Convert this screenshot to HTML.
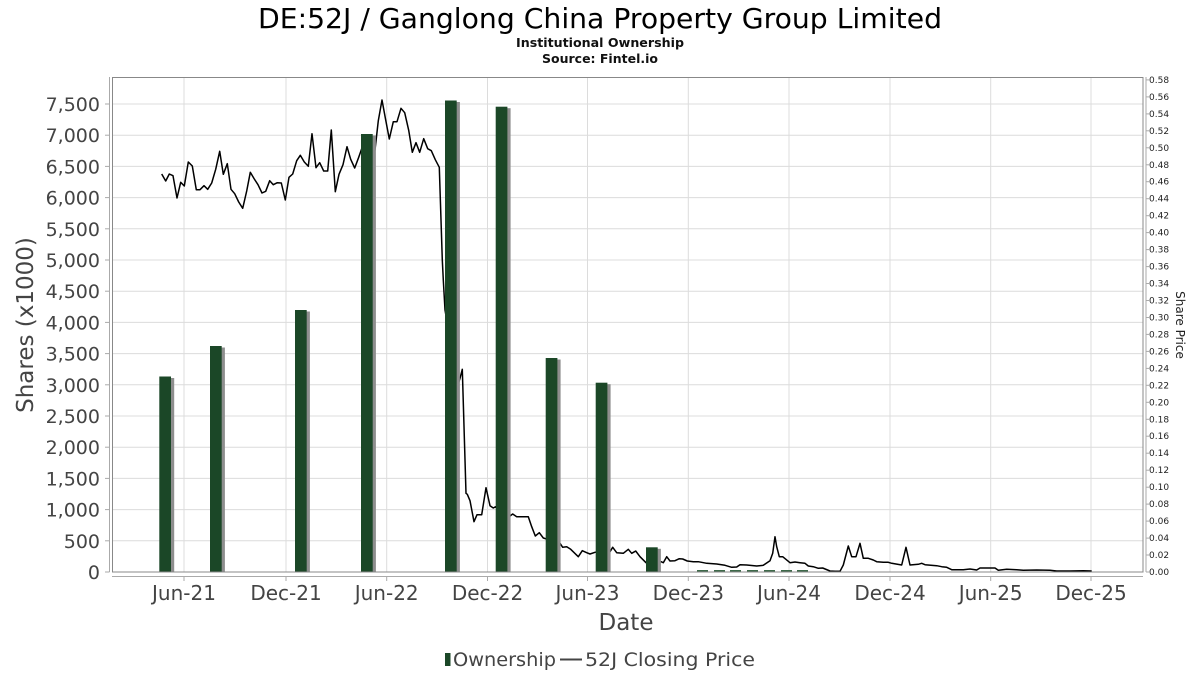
<!DOCTYPE html>
<html><head><meta charset="utf-8"><style>
html,body{margin:0;padding:0;background:#fff;}
svg{display:block;}
text{font-family:"DejaVu Sans","Liberation Sans",sans-serif;}
</style></head><body>
<svg width="1200" height="675" viewBox="0 0 1200 675" xmlns="http://www.w3.org/2000/svg">
<rect width="1200" height="675" fill="#fff"/>
<text x="600" y="28" font-size="28" text-anchor="middle" fill="#000" textLength="684" lengthAdjust="spacingAndGlyphs">DE:52J / Ganglong China Property Group Limited</text>
<text x="600" y="47" font-size="12.5" font-weight="bold" text-anchor="middle" fill="#111" textLength="168" lengthAdjust="spacingAndGlyphs">Institutional Ownership</text>
<text x="600" y="63" font-size="12.5" font-weight="bold" text-anchor="middle" fill="#111">Source: Fintel.io</text>

<g stroke="#dcdcdc" stroke-width="1">
<line x1="113" x2="1143" y1="540.8" y2="540.8"/><line x1="113" x2="1143" y1="509.6" y2="509.6"/><line x1="113" x2="1143" y1="478.4" y2="478.4"/><line x1="113" x2="1143" y1="447.2" y2="447.2"/><line x1="113" x2="1143" y1="416" y2="416"/><line x1="113" x2="1143" y1="384.8" y2="384.8"/><line x1="113" x2="1143" y1="353.6" y2="353.6"/><line x1="113" x2="1143" y1="322.4" y2="322.4"/><line x1="113" x2="1143" y1="291.2" y2="291.2"/><line x1="113" x2="1143" y1="260" y2="260"/><line x1="113" x2="1143" y1="228.8" y2="228.8"/><line x1="113" x2="1143" y1="197.6" y2="197.6"/><line x1="113" x2="1143" y1="166.4" y2="166.4"/><line x1="113" x2="1143" y1="135.2" y2="135.2"/><line x1="113" x2="1143" y1="104" y2="104"/>
<line y1="78" y2="572" x1="184" x2="184"/><line y1="78" y2="572" x1="286" x2="286"/><line y1="78" y2="572" x1="386.7" x2="386.7"/><line y1="78" y2="572" x1="487.5" x2="487.5"/><line y1="78" y2="572" x1="587.5" x2="587.5"/><line y1="78" y2="572" x1="688.3" x2="688.3"/><line y1="78" y2="572" x1="789" x2="789"/><line y1="78" y2="572" x1="890" x2="890"/><line y1="78" y2="572" x1="990.7" x2="990.7"/><line y1="78" y2="572" x1="1091" x2="1091"/>
</g>

<polyline fill="none" stroke="#000" stroke-width="1.5" stroke-linejoin="round" points="161.7,174 165.7,181 169.3,174 173,175.7 177,198 180.7,182.3 184.3,186 188.3,162 192.3,166 196.3,189.7 200,189.7 204,185.7 207.7,189.3 211.7,183 215.7,169.3 219.7,151.3 223.3,174.3 227.3,163.7 231,189.3 234.7,193.7 238.7,202 242.7,208.3 246.7,191 250.3,172.3 254.3,179 258,184.7 262,193 265.7,191.3 269.7,180.7 273.3,184.7 277.3,182.7 281.3,183 285.3,200 289,177.3 292.7,174 296.7,160.7 300.3,155.3 304.3,162 308.3,166.3 312,133.7 316,167.7 319.7,162.7 323.7,171 327.7,171 331.3,130 335.3,191.7 339,174.3 343,164.7 347,146.7 350.7,159.3 354.7,168 358.7,157.3 362.3,147 367,135 375,150 378.3,120.7 382,100 385.7,120 389.3,139 393.3,121.7 397,121.7 401,108.3 404.7,112.7 408.7,130.3 412.3,152.3 416,142.7 419.7,152.3 423.7,138.7 427.7,148.7 431.3,150.7 435.3,159.7 439.3,167.3 442.3,260 443.3,280 445,310 452,350 458,385 460,378.3 462.3,369.3 466,493.3 467.3,494.3 470,500.7 474,521.7 477,514.7 481.7,514.7 486,487.7 490,505.7 493.3,508 495.7,506.7 502,510 510,516 512.7,514 516.7,516.7 528.3,516.7 531.7,526.7 535.3,536 539.3,532.7 543.3,538 550,540 560,543.3 562.7,547.3 566.7,546.7 570.7,549.3 578.3,556.7 582.3,550.7 586.7,552.7 590,554 595,552.3 602,551 610,551.7 612.7,547.3 616.7,552.7 623.3,553.3 628.3,549.3 631.7,553.3 635.7,551 640,556.7 646,562.7 654,563 661,561.7 663.3,562.7 666.7,556.7 670,561 675,560.7 679.3,558.7 682.7,559 687.3,561 693.3,561.7 698.3,561.7 706.7,563.3 716.7,564 725,565.3 731.7,567.3 736.7,567 740,564.7 746.7,565 756.7,566 763.3,565.3 770,560.7 772.7,553.3 775,536.7 776.7,546.7 779.3,556.7 782.7,556.7 790,562.7 795,562 800,562.7 805,563.3 808.3,566 813.3,566.7 818.3,568.3 822.7,568 830,571 835,571.3 840,571.3 843.3,565 848.3,546 851.7,556.7 856,556.7 860,543.3 863.3,558.3 868.3,558.3 873.3,560 876.7,561.7 883.3,562.3 888.3,562.3 891.7,563.3 901.7,565 906,547.3 910,565 918.3,564.3 921.7,563.3 925,564.7 936.7,565.7 941.7,566.7 946.7,567.3 951.7,569.7 963.3,569.7 970,569 976.7,570 980,568 995,568 998.3,570.3 1006.7,569.3 1016.7,569.7 1023.3,570.3 1036.7,570 1050,570.3 1056.7,571 1070,571 1083.3,570.7 1091.7,571"/>

<g fill="#8e8e8e">
<rect x="162.5" y="378" width="11.7" height="194"/>
<rect x="213.2" y="347.5" width="11.7" height="224.5"/>
<rect x="298.2" y="311.5" width="11.7" height="260.5"/>
<rect x="364.2" y="135.5" width="11.7" height="436.5"/>
<rect x="448.2" y="102" width="11.7" height="470"/>
<rect x="498.9" y="108.2" width="11.7" height="463.8"/>
<rect x="548.9" y="359.5" width="11.7" height="212.5"/>
<rect x="598.9" y="384.2" width="11.7" height="187.8"/>
<rect x="649.2" y="548.8" width="11.7" height="23.2"/>
</g>
<g fill="#1b4727">
<rect x="159.3" y="376.5" width="11.7" height="195.5"/>
<rect x="210" y="346" width="11.7" height="226"/>
<rect x="295" y="310" width="11.7" height="262"/>
<rect x="361" y="134" width="11.7" height="438"/>
<rect x="445" y="100.5" width="11.7" height="471.5"/>
<rect x="495.7" y="106.7" width="11.7" height="465.3"/>
<rect x="545.7" y="358" width="11.7" height="214"/>
<rect x="595.7" y="382.7" width="11.7" height="189.3"/>
<rect x="646" y="547.3" width="11.7" height="24.7"/>
</g>
<g fill="#3e6a4a">
<rect x="697" y="570" width="11" height="2"/><rect x="714" y="570" width="11" height="2"/><rect x="730" y="570" width="11" height="2"/><rect x="747" y="570" width="11" height="2"/><rect x="764" y="570" width="11" height="2"/><rect x="781" y="570" width="11" height="2"/><rect x="797" y="570" width="11" height="2"/>
</g>

<rect x="112.5" y="77.5" width="1030.5" height="494.5" fill="none" stroke="#888" stroke-width="1"/>
<!-- left axis -->
<g stroke="#aaa" stroke-width="1">
<line x1="109.5" x2="109.5" y1="77" y2="572"/>
<line x1="105" x2="109.5" y1="572" y2="572"/><line x1="105" x2="109.5" y1="540.8" y2="540.8"/><line x1="105" x2="109.5" y1="509.6" y2="509.6"/><line x1="105" x2="109.5" y1="478.4" y2="478.4"/><line x1="105" x2="109.5" y1="447.2" y2="447.2"/><line x1="105" x2="109.5" y1="416" y2="416"/><line x1="105" x2="109.5" y1="384.8" y2="384.8"/><line x1="105" x2="109.5" y1="353.6" y2="353.6"/><line x1="105" x2="109.5" y1="322.4" y2="322.4"/><line x1="105" x2="109.5" y1="291.2" y2="291.2"/><line x1="105" x2="109.5" y1="260" y2="260"/><line x1="105" x2="109.5" y1="228.8" y2="228.8"/><line x1="105" x2="109.5" y1="197.6" y2="197.6"/><line x1="105" x2="109.5" y1="166.4" y2="166.4"/><line x1="105" x2="109.5" y1="135.2" y2="135.2"/><line x1="105" x2="109.5" y1="104" y2="104"/>
<!-- bottom axis -->
<line x1="112" x2="1143" y1="576.5" y2="576.5"/>
<line y1="576.5" y2="581" x1="184" x2="184"/><line y1="576.5" y2="581" x1="286" x2="286"/><line y1="576.5" y2="581" x1="386.7" x2="386.7"/><line y1="576.5" y2="581" x1="487.5" x2="487.5"/><line y1="576.5" y2="581" x1="587.5" x2="587.5"/><line y1="576.5" y2="581" x1="688.3" x2="688.3"/><line y1="576.5" y2="581" x1="789" x2="789"/><line y1="576.5" y2="581" x1="890" x2="890"/><line y1="576.5" y2="581" x1="990.7" x2="990.7"/><line y1="576.5" y2="581" x1="1091" x2="1091"/>
<!-- right axis -->
<line x1="1146" x2="1146" y1="77" y2="572"/>
</g>
<g stroke="#aaa" stroke-width="1" id="rt"></g>

<g font-size="19" fill="#444" text-anchor="end">
<text x="100" y="579">0</text><text x="100" y="547.8">500</text><text x="100" y="516.6">1,000</text><text x="100" y="485.4">1,500</text><text x="100" y="454.2">2,000</text><text x="100" y="423">2,500</text><text x="100" y="391.8">3,000</text><text x="100" y="360.6">3,500</text><text x="100" y="329.4">4,000</text><text x="100" y="298.2">4,500</text><text x="100" y="267">5,000</text><text x="100" y="235.8">5,500</text><text x="100" y="204.6">6,000</text><text x="100" y="173.4">6,500</text><text x="100" y="142.2">7,000</text><text x="100" y="111">7,500</text>
</g>
<g font-size="20" fill="#444" text-anchor="middle">
<text x="184" y="600">Jun-21</text><text x="286" y="600">Dec-21</text><text x="386.7" y="600">Jun-22</text><text x="487.5" y="600">Dec-22</text><text x="587.5" y="600">Jun-23</text><text x="688.3" y="600">Dec-23</text><text x="789" y="600">Jun-24</text><text x="890" y="600">Dec-24</text><text x="990.7" y="600">Jun-25</text><text x="1091" y="600">Dec-25</text>
</g>
<g font-size="9" fill="#222">
<text x="1149" y="575">0.00</text><text x="1149" y="558">0.02</text><text x="1149" y="541.1">0.04</text><text x="1149" y="524.1">0.06</text><text x="1149" y="507.1">0.08</text><text x="1149" y="490.2">0.10</text><text x="1149" y="473.2">0.12</text><text x="1149" y="456.2">0.14</text><text x="1149" y="439.2">0.16</text><text x="1149" y="422.3">0.18</text><text x="1149" y="405.3">0.20</text><text x="1149" y="388.3">0.22</text><text x="1149" y="371.4">0.24</text><text x="1149" y="354.4">0.26</text><text x="1149" y="337.4">0.28</text><text x="1149" y="320.5">0.30</text><text x="1149" y="303.5">0.32</text><text x="1149" y="286.5">0.34</text><text x="1149" y="269.6">0.36</text><text x="1149" y="252.6">0.38</text><text x="1149" y="235.6">0.40</text><text x="1149" y="218.7">0.42</text><text x="1149" y="201.7">0.44</text><text x="1149" y="184.7">0.46</text><text x="1149" y="167.8">0.48</text><text x="1149" y="150.8">0.50</text><text x="1149" y="133.8">0.52</text><text x="1149" y="116.9">0.54</text><text x="1149" y="99.9">0.56</text><text x="1149" y="82.9">0.58</text>
</g>
<g stroke="#aaa" stroke-width="1">
<line x1="1146" x2="1149" y1="572" y2="572"/><line x1="1146" x2="1149" y1="555" y2="555"/><line x1="1146" x2="1149" y1="538.1" y2="538.1"/><line x1="1146" x2="1149" y1="521.1" y2="521.1"/><line x1="1146" x2="1149" y1="504.1" y2="504.1"/><line x1="1146" x2="1149" y1="487.2" y2="487.2"/><line x1="1146" x2="1149" y1="470.2" y2="470.2"/><line x1="1146" x2="1149" y1="453.2" y2="453.2"/><line x1="1146" x2="1149" y1="436.2" y2="436.2"/><line x1="1146" x2="1149" y1="419.3" y2="419.3"/><line x1="1146" x2="1149" y1="402.3" y2="402.3"/><line x1="1146" x2="1149" y1="385.3" y2="385.3"/><line x1="1146" x2="1149" y1="368.4" y2="368.4"/><line x1="1146" x2="1149" y1="351.4" y2="351.4"/><line x1="1146" x2="1149" y1="334.4" y2="334.4"/><line x1="1146" x2="1149" y1="317.5" y2="317.5"/><line x1="1146" x2="1149" y1="300.5" y2="300.5"/><line x1="1146" x2="1149" y1="283.5" y2="283.5"/><line x1="1146" x2="1149" y1="266.6" y2="266.6"/><line x1="1146" x2="1149" y1="249.6" y2="249.6"/><line x1="1146" x2="1149" y1="232.6" y2="232.6"/><line x1="1146" x2="1149" y1="215.7" y2="215.7"/><line x1="1146" x2="1149" y1="198.7" y2="198.7"/><line x1="1146" x2="1149" y1="181.7" y2="181.7"/><line x1="1146" x2="1149" y1="164.8" y2="164.8"/><line x1="1146" x2="1149" y1="147.8" y2="147.8"/><line x1="1146" x2="1149" y1="130.8" y2="130.8"/><line x1="1146" x2="1149" y1="113.9" y2="113.9"/><line x1="1146" x2="1149" y1="96.9" y2="96.9"/><line x1="1146" x2="1149" y1="79.9" y2="79.9"/>
</g>

<text transform="translate(33,325) rotate(-90)" font-size="23" fill="#444" text-anchor="middle">Shares (x1000)</text>
<text transform="translate(1176,325) rotate(90)" font-size="12" fill="#222" text-anchor="middle">Share Price</text>
<text x="626" y="630" font-size="23" fill="#444" text-anchor="middle">Date</text>

<rect x="445" y="653" width="5.5" height="13" fill="#1b4727"/>
<text x="453" y="666" font-size="19" fill="#444" textLength="103" lengthAdjust="spacingAndGlyphs">Ownership</text>
<line x1="560" x2="582" y1="659.5" y2="659.5" stroke="#444" stroke-width="2"/>
<text x="585" y="666" font-size="19" fill="#444" textLength="170" lengthAdjust="spacingAndGlyphs">52J Closing Price</text>
</svg>
</body></html>
